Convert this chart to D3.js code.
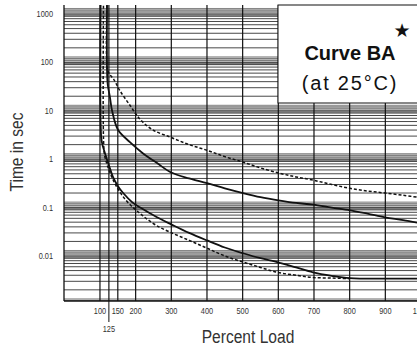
<!DOCTYPE html>
<html><head><meta charset="utf-8">
<script src="https://cdn.jsdelivr.net/npm/d3@7/dist/d3.min.js"></script>
<style>body{margin:0;background:#fff;} svg{display:block;}</style>
</head><body>
<script>
// ---- data ----
const yTickValues = [1000, 100, 10, 1, 0.1, 0.01];
const yTickLabels = ["1000", "100", "10", "1", "0.1", "0.01"];
const xGridValues = [100, 125, 150, 200, 300, 400, 500, 600, 700, 800, 900, 1000];
const xTickValues = [100, 150, 200, 300, 400, 500, 600, 700, 800, 900, 1000];
const xTickLabels = ["100", "150", "200", "300", "400", "500", "600", "700", "800", "900", "1000"];
const xExtraTickValue = 125;
const xExtraTickLabel = "125";
const minorMultipliers = [1, 2, 3, 4, 5, 6, 7, 8, 9];
const denseMultipliers = [0.95, 1.1, 1.2, 1.3];

// [percent load, time in sec]
const upperSolid = [[120,3000],[120,60],[122,34],[128,19],[134,10],[151,4],[184,2.25],[220,1.33],[260,0.83],[300,0.53],[350,0.4],[400,0.32],[450,0.25],[501,0.2],[550,0.165],[605,0.14],[650,0.125],[697,0.115],[750,0.1],[801,0.088],[850,0.075],[899,0.063],[950,0.055],[1000,0.047]];
const upperDashed = [[120,3000],[120,80],[125,60],[139,44],[156,26],[184,13],[213,6.6],[249,4],[300,2.8],[350,2.0],[400,1.53],[450,1.13],[501,0.87],[550,0.66],[605,0.51],[650,0.43],[697,0.37],[750,0.3],[801,0.25],[850,0.22],[899,0.2],[950,0.18],[1000,0.16]];
const lowerSolid = [[102,3000],[102,5],[105,2.3],[114,1.33],[125,0.75],[137,0.42],[150,0.28],[165,0.2],[190,0.13],[213,0.1],[260,0.063],[300,0.045],[350,0.03],[400,0.021],[450,0.015],[501,0.0114],[550,0.009],[597,0.0075],[650,0.0058],[697,0.0046],[750,0.0039],[800,0.0035],[900,0.0034],[1000,0.0034]];
const lowerDashed = [[110,3000],[110,2.5],[113,1.2],[122,0.7],[135,0.4],[148,0.26],[170,0.15],[193,0.1],[213,0.075],[232,0.058],[260,0.042],[297,0.031],[350,0.021],[400,0.0145],[450,0.010],[501,0.0075],[550,0.0058],[597,0.0046],[650,0.0040],[697,0.0036],[750,0.0035],[800,0.0034]];

const legendTitle = "Curve BA";
const legendSub = "(at 25°C)";
const xTitle = "Percent Load";
const yTitle = "Time in sec";

// ---- layout ----
const W = 417, H = 351;
const pLeft = 64, pTop = 5, pBottom = 301, pRight = 421;
const x = d3.scaleLinear().domain([0, 1000]).range([pLeft + 0.3, pRight]);
const y = d3.scaleLog().domain([0.001, 1000]).range([304.4, 14]);
const yMax = y.invert(pTop), yMin = y.invert(pBottom);
const narrow = 0.82;

const svg = d3.select("body").append("svg").attr("width", W).attr("height", H);
svg.append("defs").append("clipPath").attr("id", "clip")
  .append("rect").attr("x", pLeft).attr("y", pTop).attr("width", pRight - pLeft).attr("height", pBottom - pTop);

const g = svg.append("g").attr("clip-path", "url(#clip)");

// grid bands & horizontal lines
const decades = d3.range(-3, 4).map(e => Math.pow(10, e));
decades.forEach(d => {
  g.append("rect").attr("x", pLeft).attr("width", pRight - pLeft)
    .attr("y", y(d * 1.28)).attr("height", y(d * 0.88) - y(d * 1.28))
    .attr("fill", "#c4c4c4");
});
const minorVals = [];
decades.forEach(d => minorMultipliers.forEach(m => minorVals.push(d * m)));
const denseVals = [];
decades.forEach(d => denseMultipliers.forEach(m => denseVals.push(d * m)));
g.selectAll(".dense").data(denseVals.filter(v => v <= yMax && v >= yMin)).enter().append("line")
  .attr("x1", pLeft).attr("x2", pRight).attr("y1", d => y(d)).attr("y2", d => y(d))
  .attr("stroke", "#555").attr("stroke-width", 0.7);
g.selectAll(".minor").data(minorVals.filter(v => v <= yMax && v >= yMin)).enter().append("line")
  .attr("x1", pLeft).attr("x2", pRight).attr("y1", d => y(d)).attr("y2", d => y(d))
  .attr("stroke", "#333").attr("stroke-width", 0.9);

// vertical grid
g.selectAll(".vg").data(xGridValues).enter().append("line")
  .attr("x1", d => x(d)).attr("x2", d => x(d)).attr("y1", pTop).attr("y2", pBottom)
  .attr("stroke", "#111").attr("stroke-width", 1.2);

// curves
const line = d3.line().x(d => x(d[0])).y(d => y(d[1])).curve(d3.curveCatmullRom.alpha(0.5));
const curves = [
  {data: upperSolid, dash: null, w: 1.8},
  {data: upperDashed, dash: "3,2", w: 1.5},
  {data: lowerSolid, dash: null, w: 1.8},
  {data: lowerDashed, dash: "3,2", w: 1.5}
];
curves.forEach(c => {
  g.append("path").attr("d", line(c.data)).attr("fill", "none")
    .attr("stroke", "#111").attr("stroke-width", c.w)
    .attr("stroke-dasharray", c.dash);
});

// axes frame
svg.append("line").attr("x1", pLeft).attr("x2", pLeft).attr("y1", pTop).attr("y2", pBottom).attr("stroke", "#111").attr("stroke-width", 1.3);
svg.append("line").attr("x1", pLeft).attr("x2", pRight).attr("y1", pBottom).attr("y2", pBottom).attr("stroke", "#111").attr("stroke-width", 1.3);

// legend box
svg.append("rect").attr("x", 278).attr("y", pTop).attr("width", 160).attr("height", 98)
  .attr("fill", "#fff").attr("stroke", "#111").attr("stroke-width", 1);
svg.append("text").attr("x", 402).attr("y", 37).attr("text-anchor", "middle")
  .attr("font-family", "DejaVu Sans").attr("font-size", 19).attr("fill", "#111").text("★");
svg.append("text").attr("x", 350).attr("y", 60).attr("text-anchor", "middle")
  .attr("font-family", "Liberation Sans, Arial, sans-serif").attr("font-weight", "bold")
  .attr("font-size", 20).attr("fill", "#111").text(legendTitle);
svg.append("text").attr("x", 350).attr("y", 90).attr("text-anchor", "middle")
  .attr("font-family", "Liberation Sans, Arial, sans-serif")
  .attr("font-size", 20).attr("letter-spacing", 1.8).attr("fill", "#111").text(legendSub);

// tick labels
const tickFont = "Liberation Sans, Arial, sans-serif";
svg.selectAll(".yl").data(yTickValues).enter().append("text")
  .attr("transform", d => `translate(53,${y(d) + 3}) scale(${narrow},1)`).attr("text-anchor", "end")
  .attr("font-family", tickFont).attr("font-size", 9).attr("fill", "#333")
  .text((d, i) => yTickLabels[i]);
svg.selectAll(".xl").data(xTickValues).enter().append("text")
  .attr("transform", d => `translate(${x(d)},314) scale(${narrow},1)`).attr("text-anchor", "middle")
  .attr("font-family", tickFont).attr("font-size", 9).attr("fill", "#333")
  .text((d, i) => xTickLabels[i]);
svg.append("line").attr("x1", x(xExtraTickValue)).attr("x2", x(xExtraTickValue))
  .attr("y1", pBottom).attr("y2", 322).attr("stroke", "#111").attr("stroke-width", 1);
svg.append("text").attr("transform", `translate(${x(xExtraTickValue)},332) scale(${narrow},1)`).attr("text-anchor", "middle")
  .attr("font-family", tickFont).attr("font-size", 9).attr("fill", "#333").text(xExtraTickLabel);

// titles
const titleFont = "Liberation Sans, Arial, sans-serif";
svg.append("text").attr("transform", `translate(248,343) scale(${narrow},1)`).attr("text-anchor", "middle")
  .attr("font-family", titleFont).attr("font-size", 19).attr("fill", "#333").text(xTitle);
svg.append("text").attr("transform", `translate(23,152) rotate(-90) scale(${narrow},1)`).attr("text-anchor", "middle")
  .attr("font-family", titleFont).attr("font-size", 19).attr("fill", "#333").text(yTitle);
</script>
</body></html>
